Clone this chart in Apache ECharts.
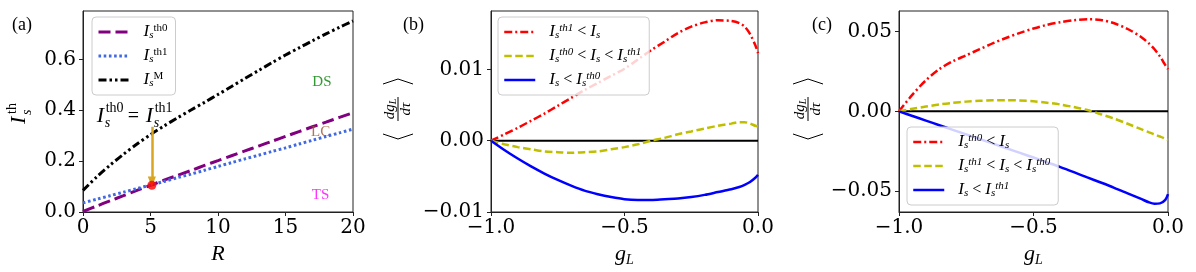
<!DOCTYPE html>
<html><head><meta charset="utf-8">
<script src="https://cdn.jsdelivr.net/npm/echarts@6/dist/echarts.min.js"></script>
<style>html,body{margin:0;padding:0;background:#fff}#c{width:1196px;height:272px}</style>
</head><body><div id="c"></div>
<script>
// ---------- data ----------
const R      = [0,1,2,3,4,5,6,7,8,9,10,11,12,13,14,15,16,17,18,19,20];
const Ith0   = [0.002,0.023,0.044,0.064,0.085,0.105,0.125,0.144,0.163,0.183,0.202,0.221,0.240,0.259,0.278,0.297,0.316,0.335,0.353,0.372,0.390];
const Ith1   = [0.036,0.050,0.064,0.078,0.092,0.106,0.120,0.135,0.149,0.164,0.179,0.194,0.209,0.223,0.238,0.252,0.267,0.282,0.297,0.311,0.326];
const IM     = [0.085,0.137,0.184,0.227,0.267,0.304,0.338,0.370,0.401,0.431,0.462,0.493,0.525,0.556,0.587,0.617,0.645,0.673,0.700,0.726,0.751];
const crossPoint = [5.1, 0.105];
const arrowFrom  = [5.1, 0.335];
const arrowTo    = [5.1, 0.118];
const regionNames = ['DS','LC','TS'];
const regionPos   = [[17.7,0.510],[17.6,0.316],[17.6,0.067]];
const regionColors = ['#008000','#A0522D','#FF00FF'];
const annoPos = [3.9, 0.383];

const gL   = [-1,-0.95,-0.9,-0.85,-0.8,-0.75,-0.7,-0.65,-0.6,-0.55,-0.5,-0.45,-0.4,-0.35,-0.3,-0.25,-0.2,-0.15,-0.1,-0.07,-0.05,-0.03,-0.01,0];
const bRed = [0,0.0009,0.0018,0.0028,0.0038,0.0049,0.0060,0.0071,0.0081,0.0091,0.0101,0.0114,0.0127,0.0139,0.0151,0.0160,0.0166,0.0169,0.0168,0.0165,0.0160,0.0150,0.0134,0.0123];
const bYel = [0,-0.0005,-0.0009,-0.0012,-0.0015,-0.0016,-0.0017,-0.0016,-0.0015,-0.0012,-0.0009,-0.0005,0.0000,0.0004,0.0009,0.0013,0.0017,0.0021,0.0024,0.0026,0.0026,0.0024,0.0021,0.0020];
const bBlu = [0,-0.0013,-0.0025,-0.0036,-0.0046,-0.0055,-0.0063,-0.0070,-0.0075,-0.0079,-0.0082,-0.0083,-0.0083,-0.0082,-0.0081,-0.0079,-0.0076,-0.0072,-0.0068,-0.0065,-0.0062,-0.0058,-0.0052,-0.0048];
const cRed = [0,0.0105,0.0195,0.0265,0.0315,0.0352,0.0390,0.0428,0.0462,0.0493,0.0520,0.0543,0.0560,0.0572,0.0578,0.0574,0.0553,0.0517,0.0467,0.0425,0.0390,0.0345,0.0290,0.0265];
const cYel = [0,0.0016,0.0030,0.0043,0.0053,0.0061,0.0066,0.0069,0.0070,0.0068,0.0063,0.0054,0.0043,0.0027,0.0008,-0.0018,-0.0046,-0.0078,-0.0112,-0.0132,-0.0145,-0.0158,-0.0172,-0.0181];
const cBlu = [0,-0.0029,-0.0058,-0.0087,-0.0116,-0.0145,-0.0174,-0.0203,-0.0232,-0.0261,-0.0290,-0.0320,-0.0350,-0.0382,-0.0415,-0.0447,-0.0480,-0.0515,-0.0550,-0.0572,-0.0580,-0.0578,-0.0556,-0.0520];
const zeroX = [-1, 0];
const zeroY = [0, 0];

const xTicksA = [0,5,10,15,20];
const yTicksA = [0,0.2,0.4,0.6];
const xTicksG = [-1,-0.5,0];
const yTicksB = [-0.01,0,0.01];
const yTicksC = [-0.05,0,0.05];

// ---------- helpers ----------
const zip = (xs, ys) => xs.map((x, i) => [x, ys[i]]);
const fmt = n => v => (v < -1e-12 ? '\u2212' : '') + Math.abs(v).toFixed(n);
const AX = '#222';
const TICKFONT = {fontFamily: 'DejaVu Serif', fontSize: 20, color: '#000'};
const SERIF = 'Liberation Serif';

function xAxis(grid, min, max, ticks, n, name) {
  return {
    type: 'value', gridIndex: grid, min, max,
    axisLine: {show: true, onZero: false, lineStyle: {color: AX, width: 1}},
    axisTick: {show: true, length: 4, customValues: ticks, lineStyle: {color: AX}},
    axisLabel: Object.assign({customValues: ticks, formatter: fmt(n), margin: 6}, TICKFONT),
    splitLine: {show: false},
    name, nameLocation: 'middle', nameGap: 29,
    nameTextStyle: {
      fontFamily: SERIF, fontStyle: 'italic', fontSize: 22, color: '#000',
      rich: {
        g: {fontFamily: SERIF, fontStyle: 'italic', fontSize: 22, lineHeight: 24, verticalAlign: 'top'},
        sub: {fontFamily: SERIF, fontStyle: 'italic', fontSize: 14, verticalAlign: 'bottom', lineHeight: 14}
      }
    }
  };
}
function yAxis(grid, min, max, ticks, n) {
  return {
    type: 'value', gridIndex: grid, min, max,
    axisLine: {show: true, onZero: false, lineStyle: {color: AX, width: 1}},
    axisTick: {show: true, length: 4, customValues: ticks, lineStyle: {color: AX}},
    axisLabel: Object.assign({customValues: ticks, formatter: fmt(n), margin: 7}, TICKFONT),
    splitLine: {show: false}
  };
}
function lineSeries(name, xi, xs, ys, color, width, type, z) {
  return {
    name, type: 'line', xAxisIndex: xi, yAxisIndex: xi, data: zip(xs, ys),
    symbol: 'none', smooth: 0.3, lineStyle: {color, width, type, cap: 'butt'},
    itemStyle: {color}, z: z || 2, animation: false, silent: true
  };
}

// legend rich text
const richL = {
  i:   {fontFamily: SERIF, fontStyle: 'italic', fontSize: 17, lineHeight: 18, color: '#000'},
  ip:  {fontFamily: SERIF, fontStyle: 'italic', fontSize: 17, lineHeight: 18, color: '#000', padding: [0,0,0,9]},
  r:   {fontFamily: SERIF, fontSize: 16, lineHeight: 18, color: '#000'},
  sub: {fontFamily: SERIF, fontStyle: 'italic', fontSize: 11, verticalAlign: 'bottom', color: '#000'},
  sup: {fontFamily: SERIF, fontSize: 11, verticalAlign: 'top', color: '#000'},
  supi:{fontFamily: SERIF, fontStyle: 'italic', fontSize: 11, verticalAlign: 'top', color: '#000'}
};
const legendText = {
  'Ith0': '{ip|I}{sub|s}{sup|th0}',
  'Ith1': '{ip|I}{sub|s}{sup|th1}',
  'IM':   '{ip|I}{sub|s}{sup|M}',
  'b: Ith1<Is':      '{ip|I}{sub|s}{supi|th1}{r| < }{i|I}{sub|s}',
  'b: Ith0<Is<Ith1': '{ip|I}{sub|s}{supi|th0}{r| < }{i|I}{sub|s}{r| < }{i|I}{sub|s}{supi|th1}',
  'b: Is<Ith0':      '{ip|I}{sub|s}{r| < }{i|I}{sub|s}{supi|th0}',
  'c: Ith0<Is':      '{ip|I}{sub|s}{supi|th0}{r| < }{i|I}{sub|s}',
  'c: Ith1<Is<Ith0': '{ip|I}{sub|s}{supi|th1}{r| < }{i|I}{sub|s}{r| < }{i|I}{sub|s}{supi|th0}',
  'c: Is<Ith1':      '{ip|I}{sub|s}{r| < }{i|I}{sub|s}{supi|th1}'
};
function legend(left, top, width, names) {
  return {
    orient: 'vertical', left, top, width, data: names,
    itemWidth: 31, itemHeight: 14, itemGap: 6, padding: [6, 8, 6, 5],
    borderColor: '#cccccc', borderWidth: 1, borderRadius: 4,
    backgroundColor: 'rgba(255,255,255,0.82)', selectedMode: false,
    itemStyle: {opacity: 0, borderWidth: 0},
    lineStyle: {width: 'inherit', type: 'inherit', cap: 'butt'},
    formatter: n => legendText[n],
    textStyle: {rich: richL, lineHeight: 18}, z: 10
  };
}

const chart = echarts.init(document.getElementById('c'), null, {renderer: 'canvas'});
const option = {
  animation: false,
  backgroundColor: '#fff',
  grid: [
    {left: 83, top: 11, width: 270, height: 201, show: true, borderColor: AX, borderWidth: 1, backgroundColor: 'transparent'},
    {left: 491, top: 11, width: 267, height: 201, show: true, borderColor: AX, borderWidth: 1, backgroundColor: 'transparent'},
    {left: 899, top: 11, width: 269, height: 201, show: true, borderColor: AX, borderWidth: 1, backgroundColor: 'transparent'}
  ],
  xAxis: [
    xAxis(0, 0, 20, xTicksA, 0, 'R'),
    xAxis(1, -1, 0, xTicksG, 1, '{g|g}{sub|L}'),
    xAxis(2, -1, 0, xTicksG, 1, '{g|g}{sub|L}')
  ],
  yAxis: [
    yAxis(0, 0, 0.79, yTicksA, 1),
    yAxis(1, -0.01, 0.0182, yTicksB, 2),
    yAxis(2, -0.0632, 0.063, yTicksC, 2)
  ],
  legend: [
    legend(92, 17, 78, ['Ith0','Ith1','IM']),
    legend(498, 17, 149, ['b: Ith1<Is','b: Ith0<Is<Ith1','b: Is<Ith0']),
    legend(907, 127, 149, ['c: Ith0<Is','c: Ith1<Is<Ith0','c: Is<Ith1'])
  ],
  series: [
    lineSeries('Ith0', 0, R, Ith0, '#800080', 3, [12, 5]),
    lineSeries('Ith1', 0, R, Ith1, '#4169E1', 3, [2.6, 2.6]),
    lineSeries('IM', 0, R, IM, '#000000', 3, [8, 3, 2.5, 3, 2.5, 3]),
    {
      name: 'cross', type: 'scatter', xAxisIndex: 0, yAxisIndex: 0,
      data: [crossPoint], symbolSize: 9, itemStyle: {color: '#FF0000'}, z: 5, silent: true,
      markLine: {
        silent: true, symbol: ['none', 'triangle'], symbolSize: [0, 9], symbolRotate: 180, animation: false,
        label: {show: false},
        itemStyle: {color: '#DAA520'},
        lineStyle: {color: '#DAA520', width: 2.5, type: 'solid', opacity: 1},
        data: [[{coord: arrowFrom, symbol: 'none'}, {coord: arrowTo, symbol: 'triangle', symbolSize: [8, 11]}]]
      }
    },
    {
      name: 'regions', type: 'scatter', xAxisIndex: 0, yAxisIndex: 0, symbolSize: 0, silent: true,
      data: regionNames.map((n, i) => ({
        name: n, value: regionPos[i],
        label: {show: true, position: 'inside', formatter: n, color: regionColors[i],
                fontFamily: SERIF, fontSize: 15}
      }))
    },
    lineSeries('b: zero', 1, zeroX, zeroY, '#000', 2, 'solid', 1),
    lineSeries('b: Ith1<Is', 1, gL, bRed, '#FF0000', 2.5, [8, 3, 2, 3]),
    lineSeries('b: Ith0<Is<Ith1', 1, gL, bYel, '#BFBF00', 2.5, [7.5, 3.5]),
    lineSeries('b: Is<Ith0', 1, gL, bBlu, '#0000FF', 2.5, 'solid'),
    lineSeries('c: zero', 2, zeroX, zeroY, '#000', 2, 'solid', 1),
    lineSeries('c: Ith0<Is', 2, gL, cRed, '#FF0000', 2.5, [8, 3, 2, 3]),
    lineSeries('c: Ith1<Is<Ith0', 2, gL, cYel, '#BFBF00', 2.5, [7.5, 3.5]),
    lineSeries('c: Is<Ith1', 2, gL, cBlu, '#0000FF', 2.5, 'solid')
  ]
};
chart.setOption(option);

// ---------- text annotations (graphic) ----------
function T(x, y, text, size, italic, extra) {
  return Object.assign({
    type: 'text', x, y,
    style: {text, fontFamily: SERIF, fontSize: size, fontStyle: italic ? 'italic' : 'normal',
            fill: '#000', verticalAlign: 'middle', align: 'left'}
  }, extra || {});
}
function fracLabel(cx, cy) {
  return {
    type: 'group', x: cx, y: cy, rotation: Math.PI / 2,
    children: [
      {type: 'polyline', shape: {points: [[-25, -15], [-30, 0], [-25, 15]]}, style: {stroke: '#000', lineWidth: 1, fill: null}},
      {type: 'polyline', shape: {points: [[25, -15], [30, 0], [25, 15]]}, style: {stroke: '#000', lineWidth: 1, fill: null}},
      {type: 'text', x: 0, y: -8, style: {text: '{i|dg}{s|L}', align: 'center', verticalAlign: 'middle',
        rich: {i: {fontFamily: SERIF, fontStyle: 'italic', fontSize: 15, lineHeight: 16},
               s: {fontFamily: SERIF, fontStyle: 'italic', fontSize: 10, verticalAlign: 'bottom'}}}},
      {type: 'line', shape: {x1: -12, y1: 0, x2: 12, y2: 0}, style: {stroke: '#000', lineWidth: 1}},
      {type: 'text', x: 0, y: 8, style: {text: 'd\u03C4', align: 'center', verticalAlign: 'middle',
        fontFamily: SERIF, fontStyle: 'italic', fontSize: 15, fill: '#000'}}
    ]
  };
}
const ap = chart.convertToPixel({gridIndex: 0}, annoPos);
const ax0 = ap[0] - 39, ay0 = ap[1] + 2;
chart.setOption({
  graphic: [
    T(12, 25, '(a)', 18, false),
    T(403, 25, '(b)', 18, false),
    T(812, 25, '(c)', 18, false),
    {type: 'group', x: 19, y: 112, rotation: Math.PI / 2, children: [
      T(-12, 0, 'I', 22, true),
      T(-2, -7, 'th', 14, false),
      T(-3, 8, 's', 14, true)
    ]},
    fracLabel(398, 109),
    fracLabel(808, 109),
    {type: 'group', x: ax0, y: ay0, children: [
      T(0, 0, 'I', 22, true),
      T(9, -8, 'th0', 14, false),
      T(8, 7, 's', 14, true),
      T(31, 0, '=', 20, false),
      T(49, 0, 'I', 22, true),
      T(58, -8, 'th1', 14, false),
      T(57, 7, 's', 14, true)
    ]}
  ]
});
</script>
</body></html>
